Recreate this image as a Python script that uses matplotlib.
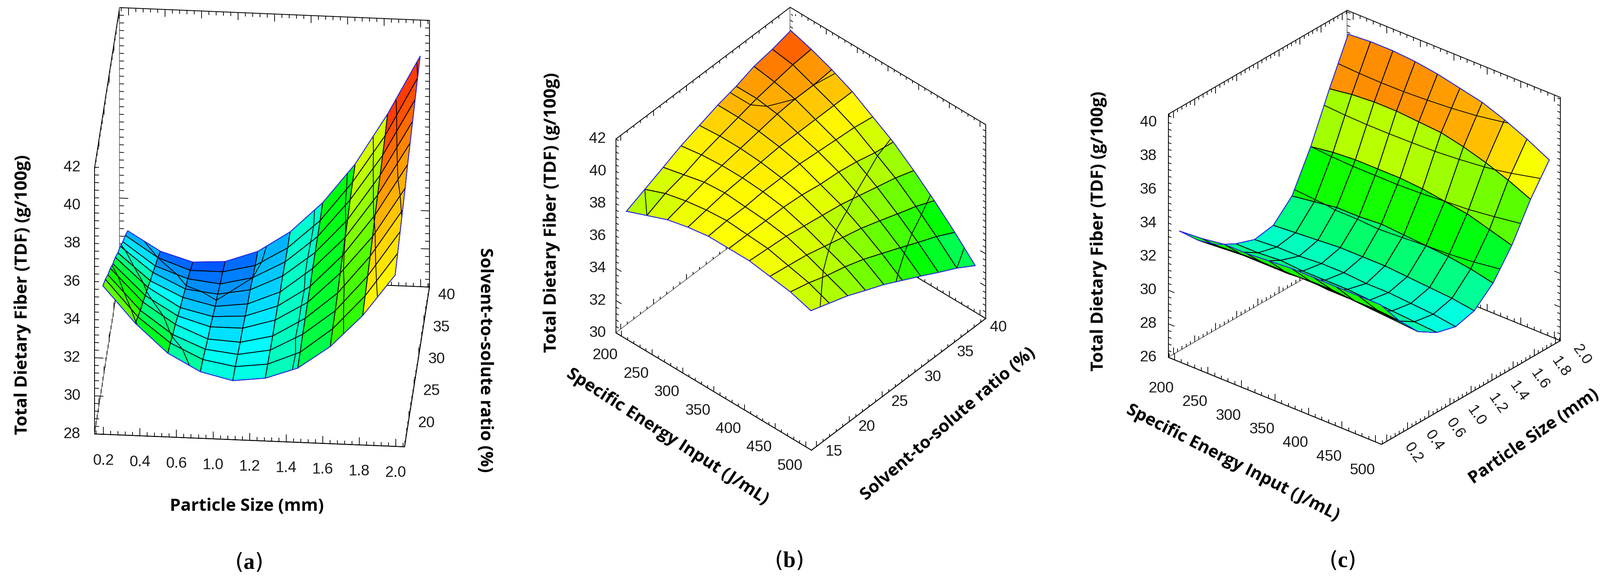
import numpy as np
import matplotlib
matplotlib.use("Agg")
import matplotlib.pyplot as plt
from matplotlib.colors import LinearSegmentedColormap
from mpl_toolkits.mplot3d.art3d import Line3DCollection

W, H = 4382, 1601

plt.rcParams["font.family"] = ["DejaVu Sans"]
plt.rcParams["mathtext.fontset"] = "custom"
plt.rcParams["mathtext.rm"] = "Liberation Serif"
plt.rcParams["mathtext.bf"] = "Liberation Serif:bold"

# ---- data ----
# (a) particle size x solvent ratio
part_a = [0.2, 0.4, 0.6, 0.8, 1.0, 1.2, 1.4, 1.6, 1.8, 2.0]
solv_a = [15, 17.5, 20, 22.5, 25, 27.5, 30, 32.5, 35, 37.5, 40]
tdf_a = [
    [36.0, 34.1, 32.6, 31.7, 31.3, 31.5, 32.1, 33.3, 35.0, 37.2],
    [35.5, 33.6, 32.3, 31.5, 31.2, 31.4, 32.1, 33.4, 35.2, 37.5],
    [34.9, 33.1, 31.9, 31.2, 31.0, 31.3, 32.2, 33.5, 35.4, 37.8],
    [34.4, 32.7, 31.6, 30.9, 30.8, 31.2, 32.2, 33.6, 35.6, 38.1],
    [33.8, 32.2, 31.2, 30.7, 30.7, 31.2, 32.2, 33.8, 35.8, 38.4],
    [33.3, 31.8, 30.8, 30.4, 30.5, 31.1, 32.2, 33.9, 36.1, 38.8],
    [32.7, 31.3, 30.5, 30.1, 30.3, 31.0, 32.3, 34.0, 36.3, 39.1],
    [32.2, 30.9, 30.1, 29.9, 30.2, 31.0, 32.3, 34.1, 36.5, 39.4],
    [31.6, 30.4, 29.8, 29.6, 30.0, 30.9, 32.3, 34.3, 36.7, 39.7],
    [31.1, 30.0, 29.4, 29.4, 29.8, 30.8, 32.3, 34.4, 36.9, 40.0],
    [30.5, 29.5, 29.0, 29.1, 29.7, 30.8, 32.4, 34.5, 37.2, 40.3],
]

# (b) energy x solvent ratio
energy = [200, 233.3, 266.7, 300, 333.3, 366.7, 400, 433.3, 466.7, 500]
solv_b = [15, 17.8, 20.6, 23.3, 26.1, 28.9, 31.7, 34.4, 37.2, 40]
tdf_b = [
    [37.5, 38.0, 38.5, 38.8, 39.0, 39.0, 39.0, 38.8, 38.6, 38.2],
    [38.0, 38.5, 38.8, 39.0, 39.1, 39.0, 38.9, 38.6, 38.3, 37.8],
    [38.5, 38.8, 39.1, 39.2, 39.1, 39.0, 38.8, 38.4, 37.9, 37.4],
    [39.0, 39.2, 39.3, 39.3, 39.2, 39.0, 38.6, 38.1, 37.6, 36.9],
    [39.4, 39.5, 39.5, 39.4, 39.2, 38.9, 38.4, 37.8, 37.2, 36.4],
    [39.8, 39.8, 39.7, 39.5, 39.2, 38.7, 38.2, 37.5, 36.7, 35.8],
    [40.1, 40.1, 39.9, 39.5, 39.1, 38.6, 37.9, 37.1, 36.2, 35.2],
    [40.5, 40.3, 40.0, 39.5, 39.0, 38.4, 37.6, 36.7, 35.7, 34.6],
    [40.7, 40.5, 40.0, 39.5, 38.9, 38.1, 37.3, 36.3, 35.2, 34.0],
    [41.0, 40.6, 40.1, 39.5, 38.7, 37.9, 36.9, 35.8, 34.6, 33.3],
]

# (c) energy x particle size
part_c = [0.2, 0.4, 0.6, 0.8, 1.0, 1.2, 1.4, 1.6, 1.8, 2.0]
tdf_c = [
    [33.5, 33.6, 33.8, 33.8, 33.9, 34.0, 34.0, 34.0, 34.0, 34.0],
    [32.3, 32.4, 32.5, 32.5, 32.5, 32.6, 32.6, 32.5, 32.5, 32.4],
    [31.4, 31.5, 31.5, 31.5, 31.5, 31.4, 31.4, 31.3, 31.2, 31.1],
    [30.8, 30.8, 30.9, 30.8, 30.8, 30.8, 30.7, 30.6, 30.5, 30.4],
    [30.4, 30.5, 30.5, 30.6, 30.6, 30.5, 30.5, 30.4, 30.3, 30.1],
    [30.6, 30.7, 30.8, 30.9, 30.9, 30.9, 30.8, 30.7, 30.6, 30.4],
    [31.7, 31.9, 32.1, 32.1, 32.2, 32.1, 32.0, 31.9, 31.7, 31.4],
    [34.0, 34.2, 34.3, 34.3, 34.3, 34.2, 34.0, 33.8, 33.4, 33.0],
    [36.8, 37.0, 37.1, 37.1, 37.0, 36.9, 36.6, 36.2, 35.7, 35.1],
    [39.4, 39.5, 39.5, 39.4, 39.2, 38.9, 38.6, 38.1, 37.5, 36.8],
]

size_ticks = ["0.2", "0.4", "0.6", "1.0", "1.2", "1.4", "1.6", "1.8", "2.0"]
size_pos = [0.2, 0.425, 0.65, 0.875, 1.1, 1.325, 1.55, 1.775, 2.0]
energy_ticks = [200, 250, 300, 350, 400, 450, 500]

spectrum = LinearSegmentedColormap.from_list(
    "spectrum", [(0.0, "#0000ff"), (0.25, "#00ffff"), (0.5, "#00ff00"),
                 (0.72, "#ffff00"), (0.86, "#ff9900"), (1.0, "#ff0000")])

# colour scale per panel: TDF level -> position on the spectrum
cscale_a = ([27.0, 29.3, 31.0, 31.7, 33.0, 34.8, 36.1, 38.5, 41.0],
            [0.0, 0.09, 0.24, 0.31, 0.46, 0.58, 0.72, 0.94, 1.0])
cscale_b = ([30.0, 33.3, 37.5, 39.2, 40.8, 42.0],
            [0.15, 0.36, 0.63, 0.73, 0.92, 1.0])
cscale_c = ([28.0, 30.2, 31.2, 32.9, 35.5, 37.0, 38.1, 40.0],
            [0.15, 0.27, 0.37, 0.50, 0.64, 0.78, 0.86, 0.95])

fig = plt.figure(figsize=(W / 100, H / 100), dpi=100)


def make_axes(elev, azim, xlim, ylim, zlim):
    ax = fig.add_axes([0, 0, 0.3, 0.8], projection="3d", proj_type="ortho",
                      computed_zorder=False)
    ax.view_init(elev=elev, azim=azim)
    ax.set_box_aspect((1, 1, 1))
    ax.set_xlim(xlim)
    ax.set_ylim(ylim)
    ax.set_zlim(zlim)
    ax.grid(False)
    ax.patch.set_visible(False)
    for axis in (ax.xaxis, ax.yaxis, ax.zaxis):
        axis.set_pane_color((1, 1, 1, 1))
        axis.pane.set_edgecolor("black")
        axis.pane.set_linewidth(1.6)
        axis.line.set_color("black")
        axis.line.set_linewidth(1.6)
    ax.zaxis.set_ticks_position("lower")
    ax.tick_params(axis="both", which="both", color=(0, 0, 0, 0), labelsize=1)
    return ax


def draw_surface(ax, xs, ys, zs, cscale, levels):
    X, Y = np.meshgrid(xs, ys)
    Z = np.array(zs)
    zf = (Z[:-1, :-1] + Z[1:, :-1] + Z[:-1, 1:] + Z[1:, 1:]) / 4
    fc = np.ones(Z.shape + (4,))
    fc[:-1, :-1] = spectrum(np.interp(zf, *cscale))
    surf = ax.plot_surface(X, Y, Z, facecolors=fc, rstride=1, cstride=1,
                           linewidth=1.6, antialiased=True, shade=False,
                           zorder=1)
    surf.set_edgecolor("black")
    ax.contour(X, Y, Z, levels=levels, colors="black", linewidths=1.5,
               zorder=2)
    edge = dict(color="#2a2aff", lw=1.6, zorder=3)
    ax.plot(X[0], Y[0], Z[0], **edge)
    ax.plot(X[-1], Y[-1], Z[-1], **edge)
    ax.plot(X[:, 0], Y[:, 0], Z[:, 0], **edge)
    ax.plot(X[:, -1], Y[:, -1], Z[:, -1], **edge)


def box_ticks(ax, lims, majors):
    # small inward ticks on every drawn edge of the box, as in the picture
    segs = []
    for k in range(3):
        lo, hi = lims[k]
        m = majors[k]
        step = (m[1] - m[0]) / 5
        first = m[0] - step * np.floor((m[0] - lo) / step + 1e-6)
        vals = np.arange(first, hi + 1e-6, step)
        a, b = [i for i in range(3) if i != k]
        if k == 2:
            edges = [((lims[0][0], lims[1][0]), 0, 1), ((lims[0][0], lims[1][1]), 0, 1),
                     ((lims[0][1], lims[1][1]), 0, -1)]
        elif k == 0:
            edges = [((lims[1][0], lims[2][0]), 2, 1), ((lims[1][1], lims[2][0]), 2, 1),
                     ((lims[1][1], lims[2][1]), 2, -1)]
        else:
            edges = [((lims[0][0], lims[2][0]), 2, 1), ((lims[0][1], lims[2][0]), 2, 1),
                     ((lims[0][0], lims[2][1]), 2, -1)]
        for fixed, d, sgn in edges:
            span = lims[d][1] - lims[d][0]
            for v in vals:
                major = np.min(np.abs(np.array(m) - v)) < step / 10
                p = [0.0, 0.0, 0.0]
                p[k] = v
                p[a], p[b] = fixed
                q = list(p)
                q[d] += sgn * span * (0.028 if major else 0.014)
                segs.append([p, q])
    ax.add_collection3d(Line3DCollection(segs, colors="black", linewidths=1.4,
                                         zorder=0.5))


def to_px(ax, x, y, z):
    v = ax.get_proj() @ np.array([x, y, z, 1.0])
    dx, dy = ax.transData.transform((v[0] / v[3], v[1] / v[3]))
    return dx, H - dy


def fit_box(ax, corners, targets):
    # place the axes so the box corners land where they are in the picture
    fig.canvas.draw()
    bb = ax.get_position().transformed(fig.transFigure)
    L0, B0, S0 = bb.x0, bb.y0, bb.width
    A, rhs = [], []
    for (x, y, z), (tx, ty) in zip(corners, targets):
        dx, dy = to_px(ax, x, y, z)
        gx, gy = (dx - L0) / S0, (H - dy - B0) / S0
        A.append([1, 0, gx]); rhs.append(tx)
        A.append([0, 1, gy]); rhs.append(H - ty)
    L, B, S = np.linalg.lstsq(np.array(A), np.array(rhs), rcond=None)[0]
    ax.set_position([L / W, B / H, S / W, S / H])


tick_style = dict(fontsize=30, family="Liberation Sans", color="#1a1a1a")


def put_ticks(ax, vals, texts, point, off, **kw):
    for v, s in zip(vals, texts):
        px, py = to_px(ax, *point(v))
        fig.text((px + off[0]) / W, 1 - (py + off[1]) / H, s,
                 **tick_style, **kw)


# ---- panel (a) ----
xa, ya, za = (0.146, 2.054), (15.6, 40.6), (28, 42)
ax_a = make_axes(31, -85.4, xa, ya, za)
draw_surface(ax_a, part_a, solv_a, tdf_a, cscale_a, [30, 32, 34, 36, 38, 40])
box_ticks(ax_a, (xa, ya, za), (size_pos, [20, 25, 30, 35, 40], [28, 30, 32]))

# ---- panel (b) ----
xb, yb, zb = (191, 509), (14.25, 40.75), (30, 42)
ax_b = make_axes(42.3, -48.3, xb, yb, zb)
draw_surface(ax_b, energy, solv_b, tdf_b, cscale_b, [34, 36, 38, 40])
box_ticks(ax_b, (xb, yb, zb), (energy_ticks, [15, 20, 25], [30, 32, 34]))

# ---- panel (c) ----
xc, yc, zc = (191, 509), (0.146, 2.054), (26, 40.5)
ax_c = make_axes(29.1, -50, xc, yc, zc)
draw_surface(ax_c, energy, part_c, tdf_c, cscale_c, [28, 30, 32, 34, 36, 38])
box_ticks(ax_c, (xc, yc, zc), (energy_ticks, size_pos, [26, 28, 30]))

for ax in (ax_a, ax_b, ax_c):
    ax.set_xticks([])
    ax.set_yticks([])
    ax.set_zticks([])

fit_box(ax_a,
        [(xa[0], ya[0], za[0]), (xa[1], ya[0], za[0]),
         (xa[1], ya[1], za[1]), (xa[0], ya[1], za[1])],
        [(253, 1185), (1111, 1220), (1180, 62), (327, 20)])
fit_box(ax_b,
        [(xb[0], yb[0], zb[1]), (xb[0], yb[0], zb[0]), (xb[1], yb[0], zb[0]),
         (xb[1], yb[1], zb[0]), (xb[0], yb[1], zb[1])],
        [(1687, 388), (1687, 909), (2228, 1233), (2701, 868), (2157, 17)])
fit_box(ax_c,
        [(xc[0], yc[0], zc[0]), (xc[0], yc[0], zc[1]), (xc[1], yc[0], zc[0]),
         (xc[1], yc[1], zc[0]), (xc[0], yc[1], zc[1])],
        [(3197, 975), (3197, 317), (3785, 1215), (4278, 929), (3690, 31)])
fig.canvas.draw()

# ---- tick labels, offset from the box edges as in the picture ----
zk = dict(ha="right", va="center")
ck = dict(ha="center", va="center")
put_ticks(ax_a, size_pos, size_ticks, lambda v: (v, ya[0], za[0]), (0, 72), **ck)
put_ticks(ax_a, [20, 25, 30, 35, 40], ["20", "25", "30", "35", "40"],
          lambda v: (xa[1], v, za[0]), (25, 12), ha="left", va="center")
put_ticks(ax_a, range(28, 43, 2), [str(v) for v in range(28, 43, 2)],
          lambda v: (xa[0], ya[0], v), (-39, 0), **zk)

put_ticks(ax_b, energy_ticks, [str(v) for v in energy_ticks],
          lambda v: (v, yb[0], zb[0]), (-44, 52), **ck)
put_ticks(ax_b, [15, 20, 25, 30, 35, 40], ["15", "20", "25", "30", "35", "40"],
          lambda v: (xb[1], v, zb[0]), (48, 14), **ck)
put_ticks(ax_b, range(30, 43, 2), [str(v) for v in range(30, 43, 2)],
          lambda v: (xb[0], yb[0], v), (-27, 0), **zk)

put_ticks(ax_c, energy_ticks, [str(v) for v in energy_ticks],
          lambda v: (v, yc[0], zc[0]), (-36, 78), **ck)
put_ticks(ax_c, size_pos, size_ticks,
          lambda v: (xc[1], v, zc[0]), (73, 31), rotation=-55,
          rotation_mode="anchor", **ck)
put_ticks(ax_c, range(26, 41, 2), [str(v) for v in range(26, 41, 2)],
          lambda v: (xc[0], yc[0], v), (-32, 0), **zk)

# ---- axis titles (placed in pixels) ----
lab = dict(fontsize=34, fontweight="bold", family="Open Sans",
           ha="center", va="center")
tdf_title = "Total Dietary Fiber (TDF) (g/100g)"
fig.text(62 / W, 1 - 807 / H, tdf_title, rotation=90, **lab)
fig.text(676 / W, 1 - 1385 / H, "Particle Size (mm)", **lab)
fig.text(1328 / W, 1 - 985 / H, "Solvent-to-solute ratio (%)", rotation=-90, **lab)

fig.text(1510 / W, 1 - 582 / H, tdf_title, rotation=90, **lab)
fig.text(1828 / W, 1 - 1195 / H, "Specific Energy Input (J/mL)", rotation=-32.8, **lab)
fig.text(2596 / W, 1 - 1161 / H, "Solvent-to-solute ratio (%)", rotation=40.8, **lab)

fig.text(3009 / W, 1 - 633 / H, tdf_title, rotation=90, **lab)
fig.text(3377 / W, 1 - 1266 / H, "Specific Energy Input (J/mL)", rotation=-27, **lab)
fig.text(4201 / W, 1 - 1195 / H, "Particle Size (mm)", rotation=34.8, **lab)

cap = dict(fontsize=44, ha="center", va="center")
fig.text(680 / W, 1 - 1540 / H, r"($\mathbf{a}$)", **cap)
fig.text(2160 / W, 1 - 1535 / H, r"($\mathbf{b}$)", **cap)
fig.text(3676 / W, 1 - 1535 / H, r"($\mathbf{c}$)", **cap)

fig.savefig("out.png", dpi=100, facecolor="white")
